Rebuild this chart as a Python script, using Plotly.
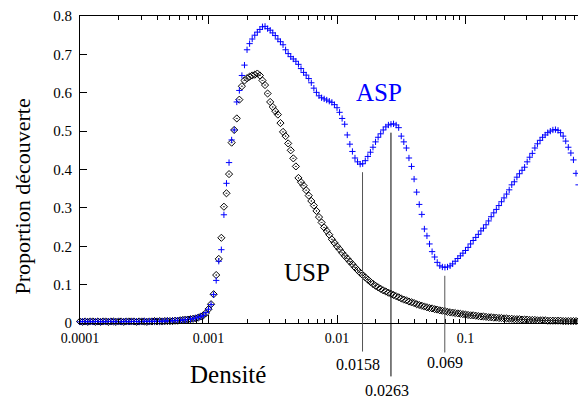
import math
import plotly.graph_objects as go

# ---- data ----
# sampling grid: 50 points per decade, mantissas of the log grid
mantissa = [1.000, 1.047, 1.096, 1.148, 1.202, 1.259, 1.318, 1.380, 1.445, 1.514,
            1.585, 1.660, 1.738, 1.820, 1.905, 1.995, 2.089, 2.188, 2.291, 2.399,
            2.512, 2.630, 2.754, 2.884, 3.020, 3.162, 3.311, 3.467, 3.631, 3.802,
            3.981, 4.169, 4.365, 4.571, 4.786, 5.012, 5.248, 5.495, 5.754, 6.026,
            6.310, 6.607, 6.918, 7.244, 7.586, 7.943, 8.318, 8.710, 9.120, 9.550]
decades = [1e-4, 1e-3, 1e-2, 1e-1]

usp = [0.004, 0.003, 0.004, 0.003, 0.004, 0.004, 0.003, 0.004, 0.003, 0.004,
       0.004, 0.003, 0.004, 0.004, 0.003, 0.004, 0.004, 0.003, 0.004, 0.004,
       0.004, 0.004, 0.003, 0.004, 0.004, 0.004, 0.003, 0.004, 0.004, 0.005,
       0.004, 0.005, 0.004, 0.005, 0.005, 0.005, 0.005, 0.006, 0.006, 0.007,
       0.008, 0.009, 0.009, 0.010, 0.011, 0.012, 0.014, 0.017, 0.020, 0.026,
       0.036, 0.049, 0.075, 0.125, 0.167, 0.222, 0.303, 0.338, 0.388, 0.470,
       0.503, 0.533, 0.582, 0.617, 0.632, 0.638, 0.642, 0.645, 0.647, 0.650,
       0.645, 0.632, 0.620, 0.598, 0.576, 0.563, 0.552, 0.543, 0.521, 0.498,
       0.487, 0.468, 0.450, 0.429, 0.408, 0.378, 0.367, 0.358, 0.346, 0.332,
       0.318, 0.306, 0.292, 0.276, 0.262, 0.249, 0.240, 0.230, 0.218, 0.209,
       0.200, 0.192, 0.183, 0.175, 0.168, 0.160, 0.153, 0.145, 0.138, 0.131,
       0.125, 0.119, 0.113, 0.107, 0.102, 0.097, 0.093, 0.089, 0.085, 0.082,
       0.079, 0.076, 0.073, 0.070, 0.067, 0.064, 0.061, 0.059, 0.056, 0.054,
       0.052, 0.049, 0.047, 0.045, 0.043, 0.041, 0.039, 0.038, 0.036, 0.035,
       0.033, 0.032, 0.031, 0.029, 0.028, 0.027, 0.026, 0.025, 0.024, 0.023,
       0.022, 0.021, 0.020, 0.020, 0.019, 0.018, 0.017, 0.017, 0.016, 0.015,
       0.015, 0.014, 0.014, 0.013, 0.013, 0.012, 0.012, 0.011, 0.011, 0.010,
       0.010, 0.010, 0.009, 0.009, 0.009, 0.008, 0.008, 0.008, 0.007, 0.007,
       0.007, 0.007, 0.006, 0.006, 0.006, 0.006, 0.006, 0.006, 0.005, 0.005,
       0.005, 0.005, 0.005, 0.005, 0.005, 0.005, 0.005, 0.005]

asp = [0.003, 0.004, 0.004, 0.003, 0.004, 0.003, 0.004, 0.004, 0.003, 0.004,
       0.003, 0.004, 0.004, 0.004, 0.003, 0.004, 0.003, 0.004, 0.004, 0.003,
       0.004, 0.004, 0.004, 0.003, 0.004, 0.005, 0.004, 0.004, 0.005, 0.004,
       0.005, 0.004, 0.005, 0.005, 0.006, 0.005, 0.006, 0.006, 0.007, 0.007,
       0.008, 0.008, 0.009, 0.010, 0.011, 0.013, 0.015, 0.017, 0.020, 0.027,
       0.036, 0.048, 0.074, 0.111, 0.161, 0.191, 0.282, 0.364, 0.418, 0.477,
       0.503, 0.576, 0.606, 0.645, 0.672, 0.712, 0.728, 0.740, 0.750, 0.758,
       0.765, 0.772, 0.773, 0.767, 0.763, 0.756, 0.749, 0.740, 0.733, 0.725,
       0.712, 0.702, 0.694, 0.688, 0.682, 0.674, 0.663, 0.653, 0.646, 0.637,
       0.626, 0.612, 0.601, 0.592, 0.587, 0.584, 0.581, 0.578, 0.575, 0.569,
       0.561, 0.549, 0.533, 0.518, 0.490, 0.466, 0.447, 0.430, 0.420, 0.414,
       0.415, 0.423, 0.434, 0.445, 0.458, 0.472, 0.484, 0.493, 0.503, 0.511,
       0.516, 0.518, 0.519, 0.516, 0.509, 0.487, 0.472, 0.456, 0.430, 0.408,
       0.375, 0.341, 0.309, 0.283, 0.245, 0.227, 0.206, 0.186, 0.172, 0.158,
       0.149, 0.146, 0.145, 0.146, 0.149, 0.154, 0.161, 0.168, 0.175, 0.182,
       0.189, 0.197, 0.206, 0.215, 0.223, 0.231, 0.240, 0.247, 0.256, 0.266,
       0.277, 0.287, 0.296, 0.306, 0.316, 0.326, 0.336, 0.347, 0.360, 0.368,
       0.380, 0.389, 0.398, 0.406, 0.420, 0.432, 0.442, 0.456, 0.467, 0.476,
       0.484, 0.490, 0.496, 0.500, 0.503, 0.504, 0.502, 0.496, 0.487, 0.474,
       0.458, 0.443, 0.425, 0.390, 0.360, 0.315, 0.250, 0.190]

x_tick_vals = [1e-4, 1e-3, 1e-2, 1e-1]
x_tick_text = ["0.0001", "0.001", "0.01", "0.1"]
minor_digits = [2, 3, 4, 5, 6, 7, 8, 9]
y_tick_vals = [0, 0.1, 0.2, 0.3, 0.4, 0.5, 0.6, 0.7, 0.8]
y_tick_text = ["0", "0.1", "0.2", "0.3", "0.4", "0.5", "0.6", "0.7", "0.8"]

marked_densities = [0.0158, 0.0263, 0.069]
marked_labels = ["0.0158", "0.0263", "0.069"]

# ---- build ----
density_all = [m * d for d in decades for m in mantissa]
x_usp = density_all[:len(usp)]
x_asp = density_all[:len(asp)]
minor_vals = [k * d for d in decades for k in minor_digits]

FONT = "Liberation Serif"
fig = go.Figure()
fig.add_trace(go.Scatter(
    x=x_usp, y=usp, mode="markers", name="USP", cliponaxis=False,
    marker=dict(symbol="diamond-open-dot", size=5.5, color="black",
                line=dict(color="black", width=1))))
fig.add_trace(go.Scatter(
    x=x_asp, y=asp, mode="markers", name="ASP", cliponaxis=False,
    marker=dict(symbol="cross-thin-open", size=4.5, color="#0000ff",
                line=dict(color="#0000ff", width=1))))

# vertical marker lines: top just below the ASP point nearest the density
line_bottoms = [-0.093, -0.174, -0.096]
label_y = [-0.135, -0.22, -0.129]
label_shift = [-5, -4, 0]
line_colors = ["#555555", "black", "#555555"]
for dens, lab, yb, ly, sh, lc in zip(marked_densities, marked_labels,
                                     line_bottoms, label_y, label_shift, line_colors):
    idx = min(range(len(x_asp)), key=lambda i: abs(math.log10(x_asp[i]) - math.log10(dens)))
    top = (asp[idx] - 0.022) / 0.8
    fig.add_shape(type="line", xref="x", yref="paper", x0=dens, x1=dens,
                  y0=yb, y1=top, line=dict(color=lc, width=1), layer="above")
    fig.add_annotation(x=math.log10(dens), xref="x", y=ly, yref="paper",
                       text=lab, showarrow=False, xshift=sh,
                       font=dict(family=FONT, size=16, color="black"),
                       xanchor="center", yanchor="middle")

fig.add_annotation(x=0.582, y=0.75, xref="paper", yref="paper", text="ASP",
                   showarrow=False, xanchor="center", yanchor="middle",
                   font=dict(family=FONT, size=25, color="#0000ff"))
fig.add_annotation(x=0.441, y=0.164, xref="paper", yref="paper", text="USP",
                   showarrow=False, xanchor="center", yanchor="middle",
                   font=dict(family=FONT, size=25, color="black"))
fig.add_annotation(x=0.288, y=-0.1675, xref="paper", yref="paper", text="Densité",
                   showarrow=False, xanchor="center", yanchor="middle",
                   font=dict(family=FONT, size=25, color="black"))
fig.add_annotation(x=-0.111, y=0.412, xref="paper", yref="paper",
                   text="Proportion découverte", textangle=-90,
                   showarrow=False, xanchor="center", yanchor="middle",
                   font=dict(family=FONT, size=22, color="black"))

fig.update_xaxes(type="log", range=[-4, 0], showline=True, linecolor="black",
                 linewidth=1, mirror="ticks", ticks="inside", ticklen=8,
                 tickcolor="black", tickvals=x_tick_vals, ticktext=x_tick_text,
                 showgrid=False, zeroline=False, ticklabelstandoff=2,
                 tickfont=dict(family=FONT, size=14, color="black"),
                 minor=dict(tickvals=minor_vals, ticks="inside", ticklen=4,
                            tickcolor="black", showgrid=False))
fig.update_yaxes(range=[0, 0.8], showline=True, linecolor="black", linewidth=1,
                 ticks="inside", ticklen=7, tickcolor="black",
                 tickvals=y_tick_vals, ticktext=y_tick_text,
                 showgrid=False, zeroline=False, ticklabelstandoff=4,
                 tickfont=dict(family=FONT, size=15, color="black"))
fig.update_layout(width=586, height=400, showlegend=False,
                  margin=dict(l=72, r=0, t=8, b=84.5, autoexpand=False),
                  paper_bgcolor="white", plot_bgcolor="white",
                  font=dict(family=FONT))
fig.write_html("out.html")
